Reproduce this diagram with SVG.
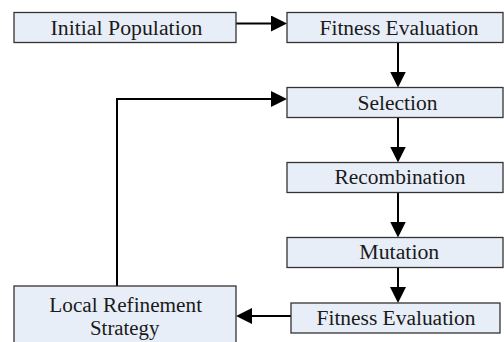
<svg xmlns="http://www.w3.org/2000/svg" width="504" height="342" viewBox="0 0 504 342">
<style>
.box{fill:#E8EEF8;stroke:#333;stroke-width:1.3}
.lbl{font-family:"Liberation Serif","Times New Roman",Tinos,"Nimbus Roman","Nimbus Roman No9 L",FreeSerif,"DejaVu Serif",serif;font-size:20px;fill:#1a1a1a;text-anchor:middle}
.conn{fill:none;stroke:#000;stroke-width:2}
</style>
<defs>
<marker id="ah" viewBox="0 0 16 16" refX="8" refY="8" markerWidth="16" markerHeight="16" markerUnits="userSpaceOnUse" orient="auto">
<path d="M0,0 L16,8 L0,16 z" fill="#000"/>
</marker>
</defs>
<rect width="504" height="342" fill="#fff"/>
<g id="connectors">
<path class="conn" d="M236,23.5 H279" marker-end="url(#ah)"/>
<path class="conn" d="M398,42.5 V79.5" marker-end="url(#ah)"/>
<path class="conn" d="M398,117.5 V154.5" marker-end="url(#ah)"/>
<path class="conn" d="M398,192.5 V229.5" marker-end="url(#ah)"/>
<path class="conn" d="M398,267.5 V295" marker-end="url(#ah)"/>
<path class="conn" d="M291,316 H244" marker-end="url(#ah)"/>
<path class="conn" d="M117,286 V99 H279" marker-end="url(#ah)"/>
</g>
<g id="initial-population">
<rect class="box" x="14" y="12.5" width="222" height="30"/>
<text class="lbl" x="126.5" y="34.5" textLength="152" lengthAdjust="spacingAndGlyphs">Initial Population</text>
</g>
<g id="fitness-evaluation-1">
<rect class="box" x="287" y="12.5" width="216" height="30"/>
<text class="lbl" x="399" y="34.5" textLength="159" lengthAdjust="spacingAndGlyphs">Fitness Evaluation</text>
</g>
<g id="selection">
<rect class="box" x="287" y="87.5" width="216" height="30"/>
<text class="lbl" x="397.5" y="109.5" textLength="80" lengthAdjust="spacingAndGlyphs">Selection</text>
</g>
<g id="recombination">
<rect class="box" x="287" y="162.5" width="216" height="30"/>
<text class="lbl" x="400" y="183.5" textLength="131" lengthAdjust="spacingAndGlyphs">Recombination</text>
</g>
<g id="mutation">
<rect class="box" x="287" y="237.5" width="216" height="30"/>
<text class="lbl" x="399.3" y="258.5" textLength="80" lengthAdjust="spacingAndGlyphs">Mutation</text>
</g>
<g id="fitness-evaluation-2">
<rect class="box" x="291" y="303" width="209" height="30"/>
<text class="lbl" x="396" y="325" textLength="159" lengthAdjust="spacingAndGlyphs">Fitness Evaluation</text>
</g>
<g id="local-refinement">
<rect class="box" x="14" y="286" width="222" height="62"/>
<text class="lbl" x="125.7" y="311.5" textLength="152.7" lengthAdjust="spacingAndGlyphs">Local Refinement</text>
<text class="lbl" x="124.7" y="335" textLength="69.3" lengthAdjust="spacingAndGlyphs">Strategy</text>
</g>
</svg>
